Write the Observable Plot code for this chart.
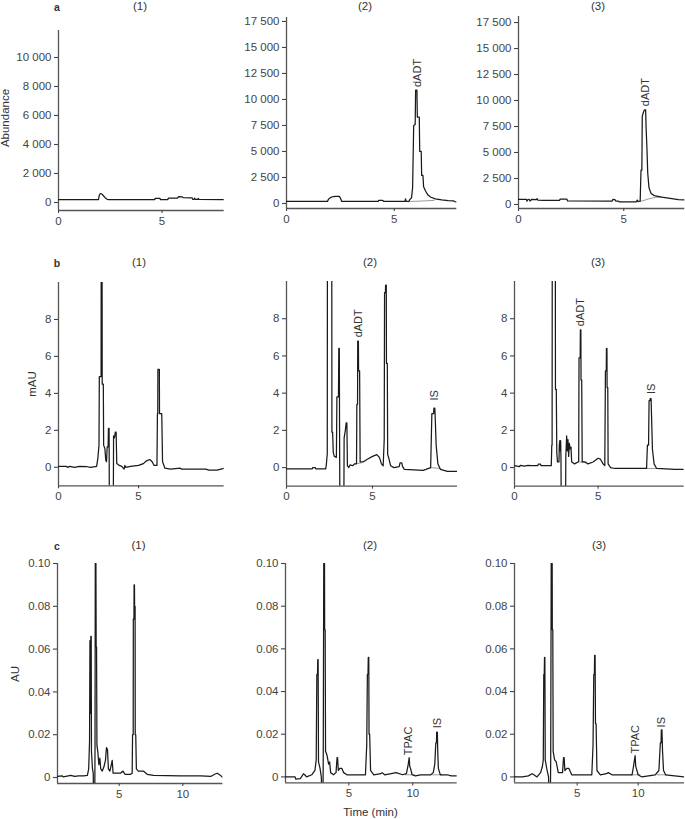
<!DOCTYPE html>
<html>
<head>
<meta charset="utf-8">
<script src="https://cdn.jsdelivr.net/npm/d3@7"></script>
<script src="https://cdn.jsdelivr.net/npm/@observablehq/plot@0.6"></script>
<style>
  body { margin: 0; background: #fff; }
  #c { position: relative; width: 685px; height: 819px; background: #fff; overflow: hidden;
       font-family: "Liberation Sans", Arial, Helvetica, sans-serif; color: #333; }
  .lbl { position: absolute; transform: translate(-50%, -50%); white-space: nowrap; font-size: 11.5px; line-height: 1; }
  .rot { transform: translate(-50%, -50%) rotate(-90deg); }
  .pan { position: absolute; }
</style>
</head>
<body>
<div id="c"></div>
<script>
// ---------- data: [time (min), signal] ----------
const a1Trace = [[0,200],[1.93,200],[1.97,500],[2.02,620],[2.1,580],[2.18,450],[2.25,330],[2.35,220],[2.45,200],[4.65,200],[4.67,290],[4.9,290],[4.92,200],[5.28,200],[5.3,300],[5.75,310],[5.8,400],[5.98,390],[6.02,330],[6.45,320],[6.48,220],[6.55,220],[6.57,300],[6.6,220],[6.73,220],[6.75,290],[6.78,210],[8,200]];
const a2Trace = [[0,200],[1.9,200],[1.95,420],[2.05,580],[2.15,650],[2.3,680],[2.45,680],[2.5,520],[2.56,200],[4.25,200],[4.27,300],[4.47,290],[4.5,200],[5.5,200],[5.52,450],[5.55,200],[5.68,200],[5.72,380],[5.8,540],[5.85,1500],[5.9,7500],[5.97,7600],[5.99,10900],[6.05,10900],[6.07,8300],[6.16,8300],[6.18,5000],[6.25,5000],[6.27,2700],[6.33,2700],[6.36,1600],[6.45,1200],[6.55,850],[6.7,600],[6.9,450],[7.2,350],[7.5,280],[7.75,260],[7.8,180],[7.9,160]];
const a2Base = [[5.75,200],[6.1,220],[6.5,260],[6.85,300]];
const a3Trace = [[0,500],[0.38,500],[0.4,320],[0.45,480],[0.5,500],[0.55,330],[0.62,480],[0.85,470],[0.88,560],[0.92,420],[1.2,400],[1.95,390],[1.98,520],[2.3,510],[2.33,340],[4.45,330],[4.48,480],[4.58,470],[4.62,330],[4.75,330],[4.78,260],[5.6,260],[5.64,420],[5.68,300],[5.78,320],[5.82,3300],[5.86,3300],[5.88,8500],[5.94,8900],[5.98,9100],[6.04,9100],[6.06,7500],[6.1,5500],[6.14,3000],[6.2,1600],[6.3,1050],[6.45,850],[6.8,700],[7.2,580],[7.6,470],[7.9,440]];
const a3Base = [[5.65,260],[5.9,350],[6.2,550],[6.5,680],[6.8,720]];

const b1Trace = [[0,0.05],[0.5,0.05],[0.55,0],[0.7,0.05],[1.0,0],[1.3,0.05],[1.8,0.03],[2.0,0],[2.38,0.05],[2.46,0.5],[2.53,1.2],[2.55,4.9],[2.66,4.9],[2.67,14],[2.72,14],[2.73,4.5],[2.8,4.5],[2.82,1.2],[2.9,1.0],[2.95,0.4],[3.0,0.3],[3.04,1.1],[3.1,1.1],[3.12,2.1],[3.16,2.1],[3.18,-3],[3.42,-3],[3.44,1.7],[3.5,1.6],[3.55,1.9],[3.6,1.9],[3.64,0.2],[3.8,0.1],[3.95,0.05],[4.1,-0.1],[4.15,0.1],[4.2,0],[4.5,0.05],[5.0,0.1],[5.3,0.2],[5.5,0.35],[5.7,0.42],[5.85,0.3],[5.97,0.1],[6.15,0.1],[6.18,2.9],[6.2,2.9],[6.21,5.3],[6.3,5.3],[6.31,2.9],[6.45,2.9],[6.5,0.3],[6.65,-0.05],[7.0,-0.1],[7.6,-0.05],[7.7,-0.1],[9.2,-0.1],[9.4,-0.15],[9.9,-0.15],[10.35,-0.05]];
const b2Trace = [[0,-0.07],[1.5,-0.07],[1.52,0],[1.68,0],[1.7,-0.07],[2.28,-0.07],[2.32,0.2],[2.36,0.65],[2.37,0.7],[2.38,14],[2.63,14],[2.64,1.9],[2.68,1.9],[2.72,0.8],[2.78,0.6],[2.9,0.55],[2.93,3.8],[3.02,3.8],[3.04,6.4],[3.07,6.4],[3.09,0.5],[3.11,-3],[3.33,-3],[3.35,1.6],[3.42,2.0],[3.47,2.4],[3.51,2.4],[3.54,0.1],[3.62,0],[3.7,0.15],[3.85,0.1],[3.95,0.2],[4.07,0.2],[4.09,3.4],[4.13,3.4],[4.14,6.8],[4.18,6.8],[4.19,5.2],[4.25,5.2],[4.28,0.3],[4.45,0.3],[4.7,0.45],[5.0,0.6],[5.25,0.7],[5.4,0.55],[5.52,0.2],[5.62,0.1],[5.68,1.5],[5.7,9.4],[5.75,9.4],[5.76,9.8],[5.8,9.8],[5.81,5.6],[5.86,5.6],[5.88,0.7],[5.95,0.5],[6.05,0.1],[6.25,0],[6.55,0.05],[6.6,0.25],[6.7,0.25],[6.75,0.05],[6.85,-0.1],[7.95,-0.15],[8.1,-0.1],[8.38,0],[8.45,2.9],[8.55,2.9],[8.57,3.2],[8.62,3.2],[8.64,2.8],[8.7,1.2],[8.8,0.2],[8.95,-0.1],[9.35,-0.2],[9.94,-0.2]];
const b2Base = [[4.0,0.2],[4.35,0.25]];
const b2BaseIS = [[8.35,0],[8.95,-0.05]];
const b3Trace = [[0,0.1],[0.3,0.05],[0.35,0.12],[0.6,0.08],[0.8,0.12],[1.0,0.1],[1.4,0.1],[1.42,0.18],[1.56,0.18],[1.58,0.1],[2.2,0.1],[2.23,1.2],[2.25,1.2],[2.26,14],[2.44,14],[2.45,4.2],[2.5,4.2],[2.53,0.8],[2.57,0.3],[2.66,0.3],[2.68,1.2],[2.71,1.45],[2.74,0.9],[2.76,1.45],[2.78,0.5],[2.8,-3],[3.05,-3],[3.07,0.6],[3.12,1.7],[3.16,0.9],[3.2,1.5],[3.24,0.6],[3.28,1.3],[3.33,1.0],[3.38,1.1],[3.42,0.3],[3.6,0.2],[3.8,0.3],[3.84,0.35],[3.86,5.9],[3.93,5.9],[3.94,7.4],[3.97,7.4],[3.98,4.7],[4.02,4.7],[4.05,0.3],[4.2,0.3],[4.4,0.2],[4.7,0.3],[5.0,0.5],[5.14,0.45],[5.3,0.2],[5.4,0.1],[5.44,5.2],[5.49,5.2],[5.5,6.4],[5.53,6.4],[5.54,4.3],[5.58,4.3],[5.6,0.2],[5.75,0],[6.0,-0.05],[7.9,-0.05],[7.95,1.2],[8.02,1.2],[8.05,3.6],[8.1,3.6],[8.12,3.7],[8.17,3.7],[8.2,2.7],[8.25,1.0],[8.35,0.2],[8.5,-0.05],[9.6,-0.1],[10.1,-0.1]];
const b3Base = [[3.8,0.3],[4.3,0.3]];
const b3BaseIS = [[7.9,-0.05],[8.5,-0.05]];

const c1Trace = [[0.15,0.0005],[0.5,0.0008],[0.6,0.0003],[1.0,0.0008],[1.2,0.001],[1.5,0.0005],[1.8,0.0008],[2.2,0.0008],[2.5,0.001],[2.6,0.004],[2.67,0.017],[2.7,0.064],[2.73,0.064],[2.75,0.03],[2.77,0.066],[2.8,0.066],[2.82,0.012],[2.9,0.004],[2.96,0.002],[2.98,-0.01],[3.08,-0.01],[3.1,0.015],[3.12,0.1],[3.17,0.1],[3.19,0.061],[3.22,0.061],[3.25,0.015],[3.32,0.012],[3.4,0.006],[3.48,0.009],[3.55,0.004],[3.67,0.003],[3.8,0.005],[3.92,0.008],[4.0,0.014],[4.08,0.013],[4.15,0.004],[4.27,0.003],[4.38,0.006],[4.45,0.008],[4.52,0.002],[4.8,0.002],[5.1,0.002],[5.3,0.003],[5.45,0.0015],[5.9,0.0015],[6.02,0.002],[6.05,0.02],[6.1,0.02],[6.11,0.074],[6.16,0.074],[6.17,0.09],[6.2,0.09],[6.21,0.08],[6.25,0.08],[6.26,0.02],[6.3,0.02],[6.35,0.004],[6.5,0.003],[6.65,0.003],[6.9,0.003],[7.2,0.0015],[7.7,0.001],[9.8,0.0008],[11.4,0.0008],[12.2,0.0005],[12.5,0.0015],[12.7,0.002],[12.95,0.001],[13.15,0]];
const c2Trace = [[0.05,0],[0.8,0],[0.85,-0.001],[1.2,-0.0008],[1.3,0],[1.45,0.0015],[1.55,0.001],[1.7,0],[2.1,0.001],[2.35,0.003],[2.45,0.008],[2.5,0.048],[2.55,0.048],[2.57,0.055],[2.6,0.055],[2.63,0.007],[2.75,0.004],[2.85,0],[2.9,-0.01],[2.98,-0.01],[3.0,0.009],[3.04,0.1],[3.1,0.1],[3.11,0.069],[3.15,0.069],[3.18,0.012],[3.3,0.01],[3.42,0.006],[3.5,0.007],[3.58,0.002],[3.8,0.001],[4.0,0.002],[4.08,0.009],[4.12,0.009],[4.18,0.003],[4.3,0.004],[4.45,0.004],[4.6,0.002],[4.85,0.001],[5.9,0.001],[6.3,0.001],[6.4,0.015],[6.45,0.048],[6.5,0.048],[6.52,0.056],[6.56,0.056],[6.58,0.02],[6.63,0.02],[6.7,0.003],[6.95,0.001],[7.5,0.0015],[7.6,0.002],[7.8,0.001],[8.7,0.002],[9.2,0.001],[9.5,0.0015],[9.62,0.005],[9.72,0.009],[9.76,0.005],[9.82,0.004],[9.95,0.001],[10.2,0.0005],[10.6,0.001],[11.4,0.001],[11.6,0.002],[11.72,0.006],[11.8,0.016],[11.85,0.016],[11.87,0.021],[11.92,0.021],[11.95,0.012],[12.0,0.004],[12.15,0.001],[12.7,0.001],[13.0,0.0005],[13.47,0.0005]];
const c2BaseTPAC = [[9.4,0.001],[10.15,0.001]];
const c2BaseIS = [[11.5,0.001],[12.3,0.001]];
const c3Trace = [[-0.14,0],[0.5,0],[1.0,0.0005],[1.3,0.0015],[1.45,0.001],[1.7,0],[2.0,0.002],[2.15,0.005],[2.22,0.008],[2.26,0.048],[2.3,0.048],[2.32,0.056],[2.35,0.056],[2.38,0.008],[2.5,0.004],[2.65,0],[2.7,-0.01],[2.8,-0.01],[2.83,0.009],[2.87,0.1],[2.95,0.1],[2.96,0.069],[3.0,0.069],[3.03,0.012],[3.15,0.008],[3.28,0.007],[3.45,0.002],[3.8,0.002],[3.88,0.009],[3.93,0.009],[3.99,0.003],[4.15,0.004],[4.32,0.004],[4.55,0.001],[6.2,0.001],[6.3,0.015],[6.36,0.048],[6.41,0.048],[6.43,0.057],[6.47,0.057],[6.5,0.025],[6.55,0.025],[6.62,0.003],[6.9,0.001],[7.4,0.0015],[7.55,0.002],[7.85,0.001],[9.2,0.001],[9.5,0.001],[9.62,0.005],[9.75,0.01],[9.8,0.005],[9.85,0.004],[10.0,0.001],[10.3,0],[11.4,0.001],[11.7,0.003],[11.82,0.016],[11.88,0.016],[11.9,0.022],[11.95,0.022],[12.0,0.012],[12.08,0.003],[12.25,0.001],[13.0,0.0005],[13.8,0]];
const c3BaseTPAC = [[9.4,0.001],[10.15,0.001]];
const c3BaseIS = [[11.55,0.001],[12.35,0.001]];

// peak labels: [time, signal at label foot, text]
const a2Peaks = [[6.08, 11200, "dADT"]];
const a3Peaks = [[6.03, 9450, "dADT"]];
const b2Peaks = [[4.17, 7.0, "dADT"], [8.6, 3.6, "IS"]];
const b3Peaks = [[3.97, 7.6, "dADT"], [8.18, 3.95, "IS"]];
const c2Peaks = [[9.7, 0.0102, "TPAC"], [11.9, 0.0228, "IS"]];
const c3Peaks = [[9.76, 0.011, "TPAC"], [11.94, 0.0232, "IS"]];

// tick values
const abundTicksA1 = [0, 2000, 4000, 6000, 8000, 10000];
const abundTicks = [0, 2500, 5000, 7500, 10000, 12500, 15000, 17500];
const mauTicks = [0, 2, 4, 6, 8];
const auTicks = [0, 0.02, 0.04, 0.06, 0.08, 0.10];
const timeTicksAB = [0, 5];
const timeTicksC = [5, 10];

// ---------- drawing ----------
const spaced = d3.formatLocale({decimal: ".", thousands: " ", grouping: [3], currency: ["", ""]}).format(",d");
const auFmt = d => d === 0 ? "0" : d.toFixed(2);
const FONT = '"Liberation Sans", Arial, Helvetica, sans-serif';
const root = document.getElementById("c");

function panel(s) {
  const ml = 52, mr = 4, mt = 4, mb = 24;
  const w = ml + (s.x1 - s.x0) + mr;
  const h = mt + (s.ybot - s.ytop) + mb;
  const marks = [
    Plot.ruleY([s.ydom[0]], {x1: s.xdom[0], x2: s.xdom[1], stroke: "#555", strokeWidth: 1.3}),
    Plot.ruleX([s.xdom[0]], {y1: s.ydom[0], y2: s.ydom[1], stroke: "#555", strokeWidth: 1.3}),
    Plot.axisY({ticks: s.yticks, tickFormat: s.yfmt, tickSize: 4, tickPadding: 3, label: null, strokeWidth: 1.1}),
    Plot.axisX({ticks: s.xticks, tickFormat: d => String(d), tickSize: 3, tickPadding: 3, label: null, strokeWidth: 1.1})
  ];
  for (const g of (s.greys || [])) {
    marks.push(Plot.line(g, {x: d => d[0], y: d => d[1], stroke: "#9a9a9a", strokeWidth: 1, clip: true}));
  }
  marks.push(Plot.line(s.trace, {x: d => d[0], y: d => d[1], stroke: "#1a1a1a", strokeWidth: 1.25, clip: true}));
  if (s.peaks) {
    marks.push(Plot.text(s.peaks, {x: d => d[0], y: d => d[1], text: d => d[2], rotate: -90, textAnchor: "start", fill: "#333", fontSize: 11}));
  }
  const svg = Plot.plot({
    width: w, height: h,
    marginLeft: ml, marginRight: mr, marginTop: mt, marginBottom: mb,
    x: {domain: s.xdom},
    y: {domain: s.ydom},
    style: {fontFamily: FONT, fontSize: "11.5px", color: "#444", background: "transparent", overflow: "visible"},
    marks
  });
  svg.classList.add("pan");
  svg.style.left = (s.x0 - ml) + "px";
  svg.style.top = (s.ytop - mt) + "px";
  root.appendChild(svg);
}

// row a
panel({x0: 58.3, x1: 224, ytop: 30, ybot: 210, xdom: [0, 8], ydom: [-550, 11860], xticks: timeTicksAB, yticks: abundTicksA1, yfmt: spaced, trace: a1Trace});
panel({x0: 285.7, x1: 456, ytop: 17, ybot: 208, xdom: [0, 7.9], ydom: [-480, 17880], xticks: timeTicksAB, yticks: abundTicks, yfmt: spaced, trace: a2Trace, greys: [a2Base], peaks: a2Peaks});
panel({x0: 517.7, x1: 684, ytop: 16, ybot: 208, xdom: [0, 7.9], ydom: [-385, 18080], xticks: timeTicksAB, yticks: abundTicks, yfmt: spaced, trace: a3Trace, greys: [a3Base], peaks: a3Peaks});
// row b
panel({x0: 58.3, x1: 224, ytop: 281.7, ybot: 485, xdom: [0, 10.35], ydom: [-1, 10], xticks: timeTicksAB, yticks: mauTicks, yfmt: d => String(d), trace: b1Trace});
panel({x0: 285.7, x1: 456.7, ytop: 281, ybot: 485.7, xdom: [0, 9.94], ydom: [-1, 10], xticks: timeTicksAB, yticks: mauTicks, yfmt: d => String(d), trace: b2Trace, greys: [b2Base, b2BaseIS], peaks: b2Peaks});
panel({x0: 514.3, x1: 684, ytop: 281, ybot: 485.7, xdom: [0, 10.15], ydom: [-1, 10], xticks: timeTicksAB, yticks: mauTicks, yfmt: d => String(d), trace: b3Trace, greys: [b3Base, b3BaseIS], peaks: b3Peaks});
// row c
panel({x0: 57.3, x1: 222.7, ytop: 562.7, ybot: 782.7, xdom: [0.15, 13.15], ydom: [-0.0028, 0.1], xticks: timeTicksC, yticks: auTicks, yfmt: auFmt, trace: c1Trace});
panel({x0: 285, x1: 456.7, ytop: 563.3, ybot: 782.7, xdom: [0.05, 13.47], ydom: [-0.0028, 0.1], xticks: timeTicksC, yticks: auTicks, yfmt: auFmt, trace: c2Trace, greys: [c2BaseTPAC, c2BaseIS], peaks: c2Peaks});
panel({x0: 514, x1: 684, ytop: 563.3, ybot: 782.7, xdom: [-0.14, 13.8], ydom: [-0.0028, 0.1], xticks: timeTicksC, yticks: auTicks, yfmt: auFmt, trace: c3Trace, greys: [c3BaseTPAC, c3BaseIS], peaks: c3Peaks});

// ---------- text labels ----------
const texts = [
  ["a", 57, 7, true], ["(1)", 140, 7], ["(2)", 365, 7], ["(3)", 598, 7],
  ["b", 57, 262.5, true], ["(1)", 139, 262.5], ["(2)", 370, 262.5], ["(3)", 598, 262.5],
  ["c", 57, 545.5, true], ["(1)", 138.5, 546], ["(2)", 370, 546], ["(3)", 599, 546],
  ["Time (min)", 370.5, 813]
];
for (const [t, x, y, bold] of texts) {
  const d = document.createElement("div");
  d.className = "lbl";
  d.textContent = t;
  d.style.left = x + "px"; d.style.top = y + "px";
  if (bold) { d.style.fontWeight = "bold"; d.style.fontSize = "10.5px"; }
  root.appendChild(d);
}
const vtexts = [["Abundance", 6, 118], ["mAU", 32.5, 384], ["AU", 16, 674]];
for (const [t, x, y] of vtexts) {
  const d = document.createElement("div");
  d.className = "lbl rot";
  d.textContent = t;
  d.style.left = x + "px"; d.style.top = y + "px";
  root.appendChild(d);
}
</script>
</body>
</html>
